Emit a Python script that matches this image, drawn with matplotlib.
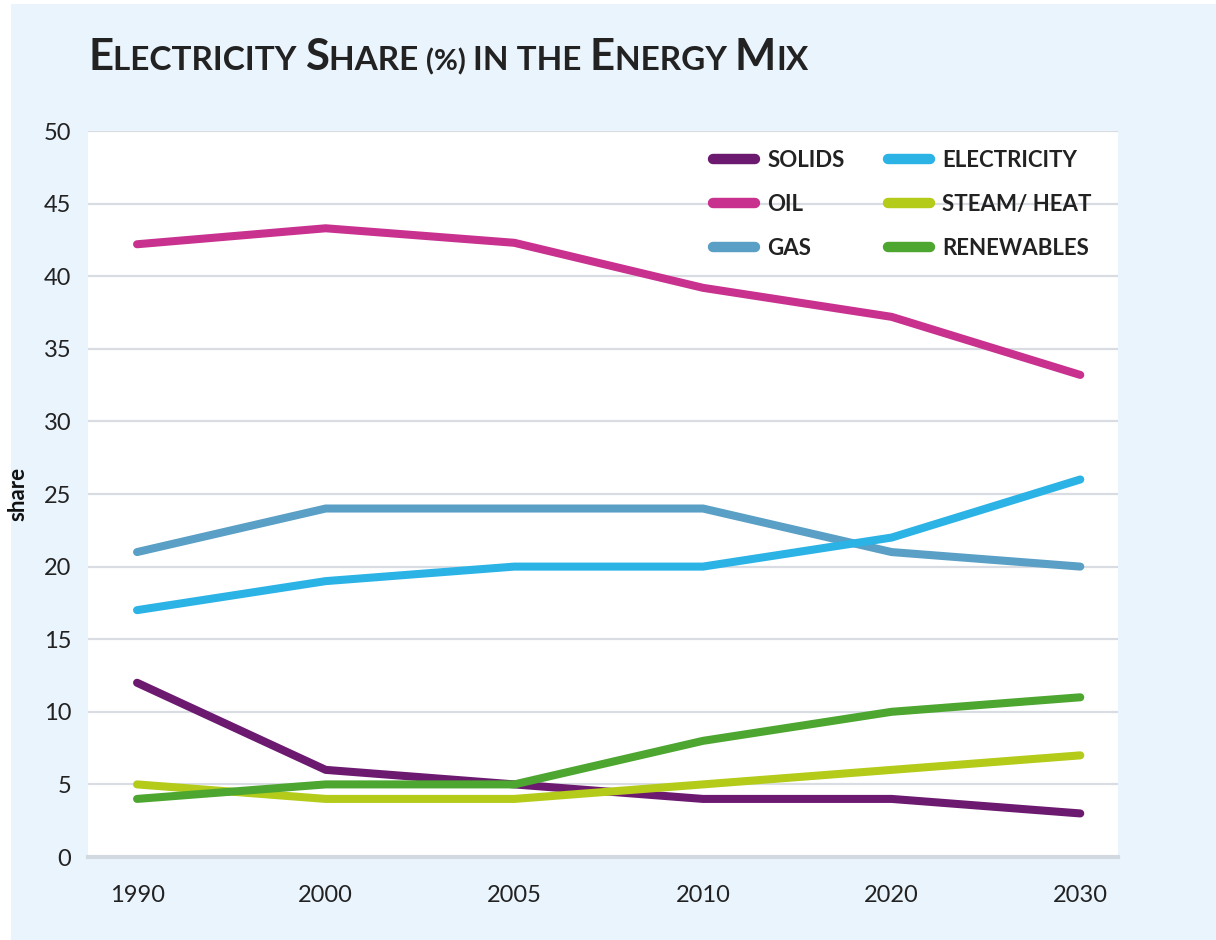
'''
Share of each energy carrier in the energy mix, 1990-2030
'''

import matplotlib
matplotlib.use('Agg')
import matplotlib.pyplot as plt
from matplotlib.patches import Rectangle

years = ['1990', '2000', '2005', '2010', '2020', '2030']

solids = [12, 6, 5, 4, 4, 3]
oil = [42.2, 43.3, 42.3, 39.2, 37.2, 33.2]
gas = [21, 24, 24, 24, 21, 20]
electricity = [17, 19, 20, 20, 22, 26]
steam_heat = [5, 4, 4, 5, 6, 7]
renewables = [4, 5, 5, 8, 10, 11]

series_names = ['SOLIDS', 'OIL', 'GAS', 'ELECTRICITY', 'STEAM/ HEAT', 'RENEWABLES']
series_colors = ['#6c1a70', '#c9318f', '#5a9fc5', '#2bb3e6', '#b4cb1a', '#4da630']

FONT = ['Lato', 'DejaVu Sans']
BG = '#eaf4fc'


def small_caps(fig, x, y, pieces, color='#222222', weight='bold', family=FONT):
    # pieces: list of (text, size); drawn left to right on one baseline
    renderer = fig.canvas.get_renderer()
    inv = fig.transFigure.inverted()
    for txt, size in pieces:
        t = fig.text(x, y, txt, fontsize=size, color=color, fontweight=weight,
                     family=family, ha='left', va='baseline')
        bb = t.get_window_extent(renderer)
        x = inv.transform((bb.x1, bb.y0))[0]


def main():
    fig = plt.figure(figsize=(12.16, 9.40), dpi=100, facecolor='white')
    fig.patches.append(Rectangle((11 / 1216, 0), 1, 1 - 4 / 940, transform=fig.transFigure,
                                 facecolor=BG, edgecolor='none', zorder=-10))

    ax = fig.add_axes([88 / 1216, 1 - 857 / 940, 1030 / 1216, 726 / 940])
    ax.set_facecolor('white')

    x = list(range(len(years)))
    data = [solids, oil, gas, electricity, steam_heat, renewables]
    for vals, name, col in zip(data, series_names, series_colors):
        ax.plot(x, vals, color=col, lw=5.8, solid_capstyle='round',
                solid_joinstyle='round', label=name, zorder=3)

    ax.set_xlim(-0.26, 5.2)
    ax.set_ylim(0, 50)
    ax.set_yticks(range(0, 51, 5))
    ax.set_xticks(x)
    ax.set_xticklabels(years)

    ax.grid(axis='y', color='#d9dde3', lw=1.6, zorder=0)
    ax.grid(axis='x', visible=False)
    for side in ['left', 'right', 'top']:
        ax.spines[side].set_visible(False)
    ax.spines['bottom'].set_color('#d3d9e0')
    ax.spines['bottom'].set_linewidth(3)
    ax.tick_params(length=0)
    ax.tick_params(axis='y', pad=12)
    ax.tick_params(axis='x', pad=20)
    for lbl in ax.get_yticklabels() + ax.get_xticklabels():
        lbl.set_family(FONT)
        lbl.set_fontsize(17)
        lbl.set_color('#222222')

    ax.set_ylabel('share', family=FONT, fontsize=16, fontweight='bold',
                  color='#111111', labelpad=11)

    leg = ax.legend(ncol=2, loc='upper right', bbox_to_anchor=(0.994, 1.002),
                    frameon=False, prop={'family': FONT, 'size': 16, 'weight': 'bold'},
                    handlelength=1.9, handletextpad=0.55, columnspacing=1.95,
                    labelspacing=1.05)
    for h in leg.get_lines():
        h.set_linewidth(7.5)
        h.set_solid_capstyle('round')
    for t in leg.get_texts():
        t.set_color('#222222')

    big, sm = 31.5, 24
    small_caps(fig, 88 / 1216, 1 - 70 / 940, [
        ('E', big), ('LECTRICITY ', sm), ('S', big), ('HARE ', sm), ('(%) ', sm - 3),
        ('IN THE ', sm), ('E', big), ('NERGY ', sm), ('M', big), ('IX', sm)])

    fig.savefig('out.png', dpi=100, facecolor=fig.get_facecolor())


if __name__ == '__main__':
    main()
